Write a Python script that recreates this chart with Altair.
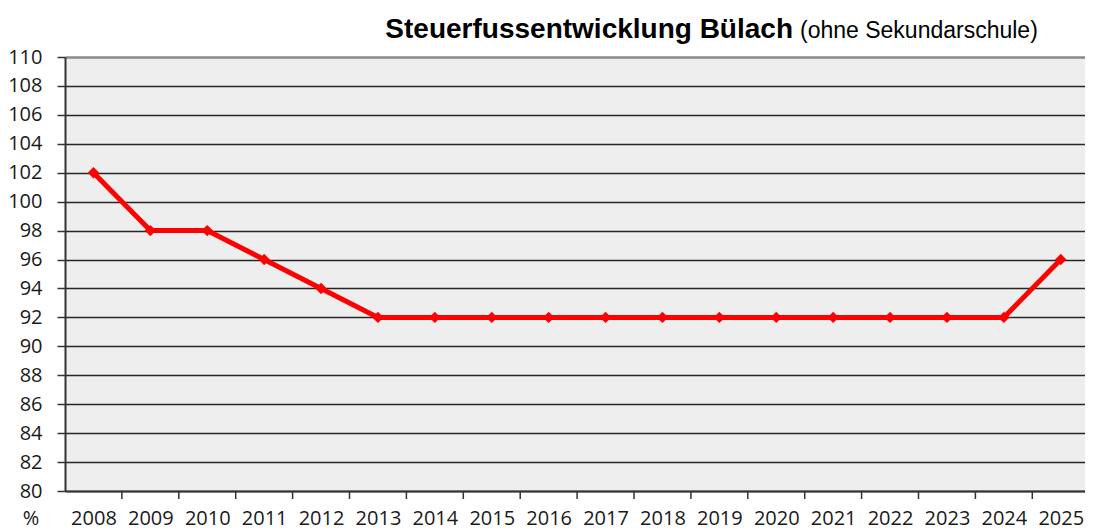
import altair as alt
import pandas as pd

years = list(range(2008, 2026))
rates = [102, 98, 98, 96, 94, 92, 92, 92, 92, 92, 92, 92, 92, 92, 92, 92, 92, 96]
y_ticks = list(range(80, 111, 2))
title_bold = "Steuerfussentwicklung Bülach"
title_normal = "(ohne Sekundarschule)"
unit_label = "%"

df = pd.DataFrame({"Jahr": years, "Steuerfuss": rates})
bounds = pd.DataFrame({"b": [y + 0.5 for y in years[:-1]]})

W = 1020
H = 434
step = 56.9
x_scale = alt.Scale(domain=[years[0] - 0.5, years[0] - 0.5 + W / step], nice=False, zero=False)
y_scale = alt.Scale(domain=[80, 110], nice=False, zero=False)

FONT = "Open Sans"

x_axis = alt.Axis(
    values=years, tickCount=40, format="d", ticks=False, grid=False,
    labelFont=FONT, labelFontSize=20, labelColor="#1a1a1a",
    labelPadding=17, labelFlush=False, labelOverlap=False,
    domainColor="#333333", domainWidth=2, title=None,
)
y_axis = alt.Axis(
    values=y_ticks, tickCount=40, grid=True,
    gridColor={"condition": {"test": "datum.value == 110", "value": "#8a8a8a"}, "value": "#262626"},
    gridWidth={"condition": {"test": "datum.value == 110", "value": 2.5}, "value": 1.5},
    tickColor="#333333", tickSize=8, tickWidth=1.5,
    labelFont=FONT, labelFontSize=20, labelColor="#1a1a1a", labelPadding=15,
    labelOverlap=False, labelFlush=False,
    domainColor="#333333", domainWidth=2, title=None,
)

base = alt.Chart(df)

line = base.mark_line(color="#ff0000", strokeWidth=5).encode(
    x=alt.X("Jahr:Q", scale=x_scale, axis=x_axis),
    y=alt.Y("Steuerfuss:Q", scale=y_scale, axis=y_axis),
)
pts = base.mark_point(shape="diamond", filled=True, color="#ff0000", size=130, opacity=1).encode(
    x=alt.X("Jahr:Q", scale=x_scale),
    y=alt.Y("Steuerfuss:Q", scale=y_scale),
)
ticks = alt.Chart(bounds).mark_rule(color="#333333", strokeWidth=1.5).encode(
    x=alt.X("b:Q", scale=x_scale),
    y=alt.value(H),
    y2=alt.value(H + 8),
)

t1 = alt.Chart(pd.DataFrame({"t": [title_bold]})).mark_text(
    font="Liberation Sans", fontWeight="bold", fontSize=28, align="right",
    baseline="alphabetic", color="#000000",
).encode(x=alt.value(728), y=alt.value(-19.5), text="t:N")
t2 = alt.Chart(pd.DataFrame({"t": [title_normal]})).mark_text(
    font="Liberation Sans", fontSize=23, align="left",
    baseline="alphabetic", color="#000000",
).encode(x=alt.value(735), y=alt.value(-19.5), text="t:N")
t3 = alt.Chart(pd.DataFrame({"t": [unit_label]})).mark_text(
    font=FONT, fontSize=20, align="center", baseline="alphabetic", color="#1a1a1a",
).encode(x=alt.value(-34), y=alt.value(H + 34), text="t:N")

chart = alt.layer(ticks, line, pts, t1, t2, t3).properties(
    width=W, height=H,
    autosize=alt.AutoSizeParams(type="none"),
    padding={"left": 57, "top": 49, "right": 0, "bottom": 39},
    background="#ffffff",
).configure_view(fill="#eeeeee", stroke=None)

chart.save("out.html", embed_options={"renderer": "svg", "actions": False})
